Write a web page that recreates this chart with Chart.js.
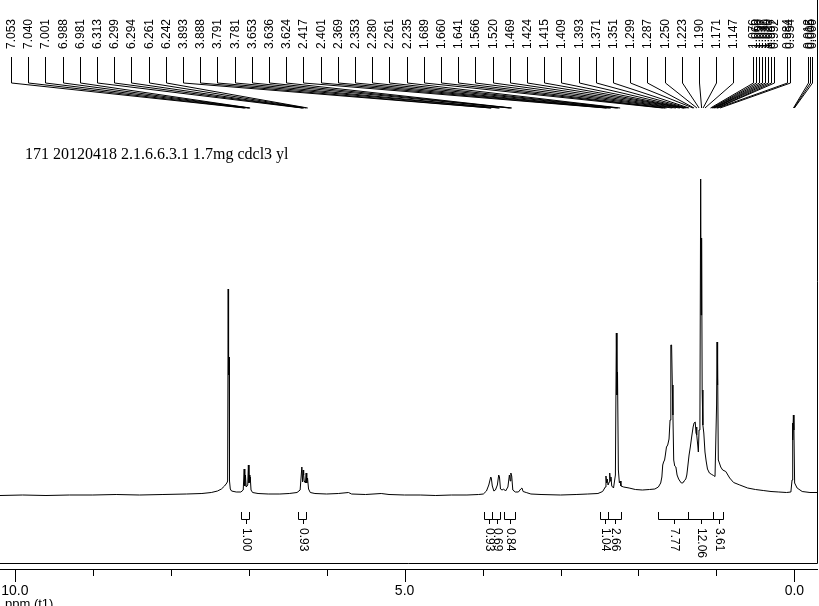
<!DOCTYPE html>
<html><head><meta charset="utf-8">
<script src="https://cdn.jsdelivr.net/npm/chart.js@4.4.0/dist/chart.umd.min.js"></script>
<style>html,body{margin:0;padding:0;background:#fff;overflow:hidden}canvas{display:block}</style>
</head><body>
<canvas id="c" width="819" height="606" style="width:819px;height:606px"></canvas>
<script>
// ---- data (ppm / relative intensity) ----
const specPpm = [10.19,9.90,9.60,9.30,9.00,8.70,8.40,8.10,7.80,7.60,7.48,7.40,7.35,7.31,7.28,7.27,7.263,7.258,7.252,7.246,7.236,7.22,7.16,7.10,7.07,7.058,7.050,7.042,7.032,7.012,7.004,6.996,6.990,6.985,6.980,6.970,6.95,6.88,6.75,6.60,6.48,6.38,6.34,6.318,6.308,6.301,6.295,6.288,6.272,6.263,6.255,6.245,6.232,6.21,6.15,6.00,5.85,5.72,5.68,5.50,5.30,5.20,5.00,4.80,4.60,4.40,4.20,4.05,3.99,3.95,3.92,3.895,3.888,3.875,3.855,3.835,3.81,3.793,3.783,3.77,3.75,3.73,3.705,3.675,3.656,3.645,3.637,3.626,3.612,3.58,3.54,3.51,3.495,3.48,3.44,3.38,3.25,3.00,2.80,2.65,2.52,2.46,2.425,2.417,2.409,2.401,2.39,2.375,2.369,2.361,2.353,2.343,2.32,2.296,2.284,2.276,2.269,2.258,2.245,2.235,2.225,2.19,2.12,2.04,1.95,1.86,1.79,1.745,1.715,1.700,1.689,1.678,1.665,1.655,1.641,1.625,1.608,1.595,1.585,1.575,1.566,1.558,1.548,1.535,1.520,1.505,1.485,1.469,1.45,1.432,1.424,1.415,1.409,1.393,1.380,1.371,1.351,1.335,1.318,1.299,1.287,1.272,1.262,1.255,1.250,1.240,1.232,1.223,1.212,1.202,1.196,1.190,1.183,1.174,1.162,1.147,1.132,1.115,1.09,1.06,1.037,1.018,1.006,0.998,0.992,0.987,0.983,0.976,0.962,0.945,0.920,0.880,0.830,0.780,0.700,0.600,0.500,0.400,0.300,0.200,0.100,0.045,0.030,0.024,0.019,0.013,0.006,-0.003,-0.035,-0.10,-0.20,-0.29];
const specInt = [-0.5,0,-0.5,0,0,0.5,0,0.5,1,1.5,2.5,4,6,9,12,14,206,120,138,14,6,4,3,3,5,26,9,20,8,10,30,12,20,13,18,5,2.5,1.5,1,1,1.5,2.5,5,28,13,25,20,14,12,22,12,17,6,2.5,1.5,1,1.5,2.5,1,0.5,1.5,0.5,0,0,-0.5,0,0,0.5,1,4,10,18,17,9,4,5,10,20,18,6,5,6,4,8,20,14,22,19,5,3,3,6,7,3.5,2.5,1,0.5,0,0.5,1,1.5,3.5,8,19,12,16,10,13,22,14,18,9,7,20,162,100,123,25,12,14,9,8,7,5.5,5,5.5,6,8,12,18,30,33,35,40,48,50,56,75,150,150,110,80,35,29,28,20,16,14,12,12,13,14,14.5,16,20,26,40,48,58,68,72,73,62,68,60,50,43,65,72,316,180,257,105,70,62,43,34,26,22,20.5,19.5,18.5,18.5,90,153,110,133,35,32,28,25,23.5,17,12.5,10,7,5.5,4.5,3.5,3,2.5,3,15,72,55,80,65,12,7,3.5,2.5,2.5];
const peakLabels = [7.053,7.040,7.001,6.988,6.981,6.313,6.299,6.294,6.261,6.242,3.893,3.888,3.791,3.781,3.653,3.636,3.624,2.417,2.401,2.369,2.353,2.280,2.261,2.235,1.689,1.660,1.641,1.566,1.520,1.469,1.424,1.415,1.409,1.393,1.371,1.351,1.299,1.287,1.250,1.223,1.190,1.171,1.147,1.076,1.060,1.050,1.037,1.030,1.020,0.997,0.992,0.984,0.954,0.012,0.005,0.000];
const integFrom = [7.10,6.37,3.98,3.88,3.72,2.49,2.39,1.75,1.37,1.04];
const integTo   = [7.00,6.26,3.88,3.77,3.59,2.39,2.23,1.37,1.04,0.92];
const integValues = ['1.00','0.93','0.93','0.69','0.84','1.04','2.66','7.77','12.06','3.61'];
const xMinPpm = -0.29, xMaxPpm = 10.19, xStep = 1, xLabelEvery = 5;
const titleText = '171 20120418 2.1.6.6.3.1 1.7mg cdcl3 yl';
const axisTitle = 'ppm (t1)';

const SANS = '"Liberation Sans Narrow","Liberation Sans","DejaVu Sans",sans-serif';
const points = specPpm.map((p, i) => ({ x: p, y: specInt[i] }));

// label slot layout along the top strip
function slotX(i) {
  if (i < 43) return 11 + i * 17.2;
  if (i < 51) return 752.7 + (i - 43) * 3.05;
  if (i < 53) return 787 + (i - 51) * 3;
  return 808 + (i - 53) * 2;
}

const overlay = {
  id: 'nmrOverlay',
  afterDraw(chart) {
    const ctx = chart.ctx, xs = chart.scales.x, ca = chart.chartArea;
    const X = v => Math.round(xs.getPixelForValue(v)) + 0.5;
    ctx.save();
    ctx.strokeStyle = '#000'; ctx.fillStyle = '#000'; ctx.lineWidth = 1;
    // frame
    ctx.beginPath();
    ctx.moveTo(0, 563.5); ctx.lineTo(ca.right + 0.5, 563.5);
    ctx.moveTo(ca.right + 0.5, 0); ctx.lineTo(ca.right + 0.5, 563.5);
    ctx.stroke();
    // axis ticks
    ctx.beginPath();
    xs.ticks.forEach(t => {
      const px = X(t.value);
      const major = Math.abs(t.value % xLabelEvery) < 1e-9;
      ctx.moveTo(px, ca.bottom); ctx.lineTo(px, ca.bottom + (major ? 13 : 7));
    });
    ctx.stroke();
    // title
    ctx.font = '16px "Liberation Serif","Times New Roman",serif';
    ctx.textAlign = 'left'; ctx.textBaseline = 'alphabetic';
    ctx.fillText(titleText, 25, 159);
    // axis title
    ctx.font = '13px ' + SANS;
    ctx.textBaseline = 'top';
    ctx.fillText(axisTitle, 5, 598);
    // integrals
    ctx.font = '12px ' + SANS;
    integFrom.forEach((f, i) => {
      const x1 = X(f), x2 = X(integTo[i]);
      const cx = Math.round((x1 + x2) / 2) + 0.5;
      ctx.beginPath();
      ctx.moveTo(x1, 512); ctx.lineTo(x1, 519.5); ctx.lineTo(x2, 519.5); ctx.lineTo(x2, 512);
      ctx.moveTo(cx, 519.5); ctx.lineTo(cx, 524);
      ctx.stroke();
      ctx.save();
      ctx.translate(cx, 528); ctx.rotate(Math.PI / 2);
      ctx.textAlign = 'left'; ctx.textBaseline = 'middle';
      ctx.fillText(integValues[i], 0, 0);
      ctx.restore();
    });
    // peak labels
    ctx.save();
    ctx.beginPath(); ctx.rect(0, 0, ca.right, 130); ctx.clip();
    ctx.font = '12px ' + SANS;
    peakLabels.forEach((p, i) => {
      const sx = Math.round(slotX(i)) + 0.5;
      const px = xs.getPixelForValue(p);
      ctx.beginPath();
      ctx.moveTo(sx, 57); ctx.lineTo(sx, 83); ctx.lineTo(px, 108);
      ctx.stroke();
      ctx.save();
      ctx.translate(sx + 0.5, 49); ctx.rotate(-Math.PI / 2);
      ctx.textAlign = 'left'; ctx.textBaseline = 'middle';
      ctx.fillText(p.toFixed(3), 0, 0);
      ctx.restore();
    });
    ctx.restore();
    ctx.restore();
  }
};

new Chart(document.getElementById('c'), {
  type: 'line',
  data: { datasets: [{ data: points, borderColor: '#000', borderWidth: 1, pointRadius: 0, tension: 0, fill: false }] },
  options: {
    responsive: false, animation: false, devicePixelRatio: 1,
    layout: { padding: { top: 120, left: 0, right: 2, bottom: 0 } },
    plugins: { legend: { display: false }, tooltip: { enabled: false }, title: { display: false } },
    scales: {
      x: {
        type: 'linear', reverse: true, min: xMinPpm, max: xMaxPpm,
        afterFit(s) { s.height = 37; s.paddingLeft = 0; s.paddingRight = 0; },
        border: { display: true, color: '#000', width: 1 },
        grid: { display: true, drawOnChartArea: false, drawTicks: false },
        ticks: {
          stepSize: xStep, includeBounds: false, autoSkip: false, maxRotation: 0, padding: 14,
          color: '#000', font: { family: SANS, size: 14 },
          callback: v => (Math.abs(v % xLabelEvery) < 1e-9 ? v.toFixed(1) : '')
        }
      },
      y: { display: false, min: -74, max: 375 }
    }
  },
  plugins: [overlay]
});
</script>
</body></html>
